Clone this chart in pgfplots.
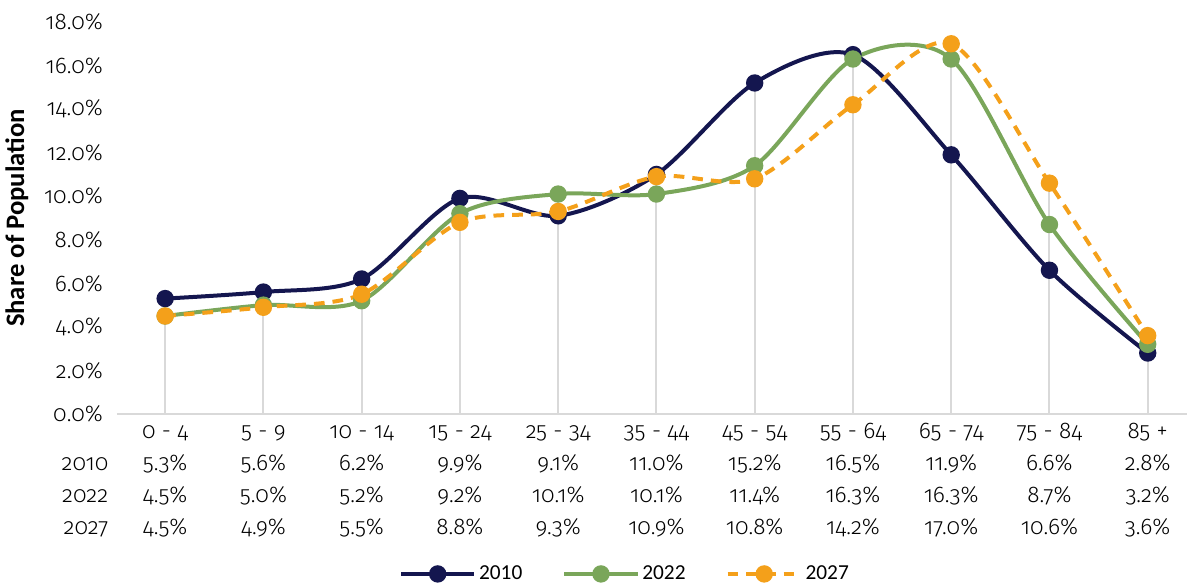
\documentclass[border=0pt]{standalone}
\usepackage{fontspec}
\setmainfont{Fira Sans}[UprightFont=* Light, Numbers=OldStyle]
\newfontfamily\calibri{Carlito}
\usepackage{pgfplots}
\usepackage{pgfplotstable}
\pgfplotsset{compat=1.18}
\definecolor{c2010}{HTML}{14164F}
\definecolor{c2022}{HTML}{7AA65A}
\definecolor{c2027}{HTML}{F4A01A}
\definecolor{gridc}{HTML}{D9D9D9}
\newcommand{\tl}[4]{\rule{0pt}{12pt}#1\\#2\%\\#3\%\\#4\%}
\pgfplotstableread{
x  a     b     c     m
0  5.3   4.5   4.5   5.3
1  5.6   5.0   4.9   5.6
2  6.2   5.2   5.5   6.2
3  9.9   9.2   8.8   9.9
4  9.1   10.1  9.3   10.1
5  11.0  10.1  10.9  11.0
6  15.2  11.4  10.8  15.2
7  16.5  16.3  14.2  16.5
8  11.9  16.3  17.0  17.0
9  6.6   8.7   10.6  10.6
10 2.8   3.2   3.6   3.6
}\data
\begin{document}
\begin{tikzpicture}[x=0.75pt,y=0.75pt]
\begin{axis}[
  scale only axis, width=802.5pt, height=294pt,
  xmin=-0.49, xmax=10.4, ymin=0, ymax=18,
  axis line style={draw=none},
  major tick length=0pt,
  xtick={0,...,10},
  xticklabels={
    {\tl{0 - 4}{5.3}{4.5}{4.5}},
    {\tl{5 - 9}{5.6}{5.0}{4.9}},
    {\tl{10 - 14}{6.2}{5.2}{5.5}},
    {\tl{15 - 24}{9.9}{9.2}{8.8}},
    {\tl{25 - 34}{9.1}{10.1}{9.3}},
    {\tl{35 - 44}{11.0}{10.1}{10.9}},
    {\tl{45 - 54}{15.2}{11.4}{10.8}},
    {\tl{55 - 64}{16.5}{16.3}{14.2}},
    {\tl{65 - 74}{11.9}{16.3}{17.0}},
    {\tl{75 - 84}{6.6}{8.7}{10.6}},
    {\tl{85 +}{2.8}{3.2}{3.6}}},
  xticklabel style={align=center, font=\fontsize{17}{24}\selectfont, yshift=-3pt},
  ytick={0,2,...,18},
  yticklabels={0.0\%,2.0\%,4.0\%,6.0\%,8.0\%,10.0\%,12.0\%,14.0\%,16.0\%,18.0\%},
  yticklabel style={font=\fontsize{17}{20}\selectfont, xshift=-7pt},
  ylabel={\calibri\bfseries Share of Population},
  ylabel style={font=\fontsize{20}{24}\selectfont, at={(0,0.5)}, yshift=63pt, anchor=south},
  legend style={draw=none, at={(0.475,-0.408)}, anchor=center,
    legend columns=3, font=\calibri\fontsize{16}{19}\selectfont,
    /tikz/every even column/.append style={column sep=28pt}},
  legend image code/.code={\draw[mark repeat=2,mark phase=2,#1]
    plot coordinates {(0pt,0pt) (27.5pt,0pt) (55pt,0pt)};},
  clip=false,
]
\draw[gridc, line width=1.5pt] (rel axis cs:0,0) -- (rel axis cs:1,0);
\addplot[forget plot, ycomb, gridc, line width=1.5pt, mark=none] table[x=x,y=m]{\data};
\addplot[smooth, c2010, line width=3pt, mark=*, mark size=5pt] table[x=x,y=a]{\data};
\addplot[smooth, c2022, line width=3pt, mark=*, mark size=5pt] table[x=x,y=b]{\data};
\addplot[smooth, c2027, line width=3pt, dash pattern=on 8pt off 6pt, mark=*, mark size=5pt, mark options={solid}] table[x=x,y=c]{\data};
\legend{2010,2022,2027}
\node[anchor=north east, align=right, inner sep=0.333em, xshift=-3pt, yshift=-3pt,
  font=\fontsize{17}{24}\selectfont] at (rel axis cs:0,0) {\rule{0pt}{12pt}\\2010\\2022\\2027};
\end{axis}
\pgfresetboundingbox
\path[use as bounding box] (-117,-170) rectangle (1070,414);
\end{tikzpicture}
\end{document}
